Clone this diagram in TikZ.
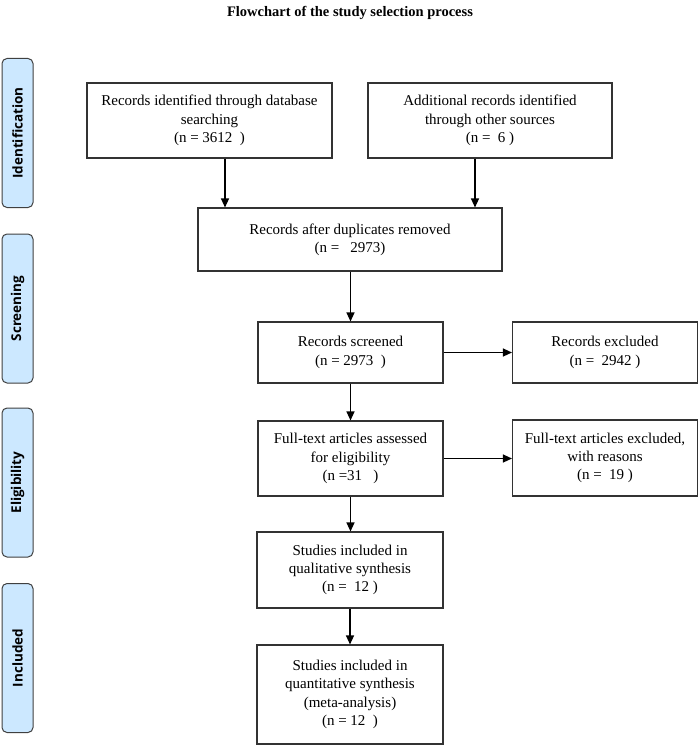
\documentclass[tikz,border=0pt]{standalone}
\usepackage{fontspec}
\setmainfont{Liberation Serif}
\newfontfamily\lblfont{Open Sans}
\usetikzlibrary{arrows.meta}
\definecolor{phaseblue}{RGB}{204,232,255}
\begin{document}
\begin{tikzpicture}[x=1pt,y=-1pt,
  box/.style={draw=black!80, line width=1.1pt, fill=white, align=center, inner sep=0pt,
    font=\fontsize{15}{18.3}\selectfont},
  phase/.style={draw=black!75, line width=1pt, fill=phaseblue, rounded corners=5pt,
    rotate=90, minimum width=149pt, minimum height=31pt, inner sep=0pt,
    font=\lblfont\bfseries\fontsize{13.5}{15}\selectfont},
  arr/.style={-{Triangle[length=9pt,width=8pt]}, line width=1.2pt}]
\useasboundingbox (0,0) rectangle (700,746);

\node[font=\bfseries\fontsize{14.5}{17}\selectfont] (title) at (350,13) {Flowchart of the study selection process};

\node[phase] (p1) at (17.5,133) {Identification};
\node[phase] (p2) at (17.5,308.5) {Screening};
\node[phase] (p3) at (17.5,482.5) {Eligibility};
\node[phase] (p4) at (17.5,658) {Included};

\node[box, minimum width=245pt, minimum height=75pt] (db) at (209.5,120.5)
  {Records identified through database\\searching\\(n = 3612~~)};
\node[box, minimum width=244pt, minimum height=75pt] (other) at (490,120.5)
  {Additional records identified\\through other sources\\(n =~~6 )};
\node[box, minimum width=304pt, minimum height=63pt] (dup) at (350,239.5)
  {Records after duplicates removed\\(n =~~~2973)};
\node[box, minimum width=185pt, minimum height=61pt] (scr) at (350.5,352.5)
  {Records screened\\(n = 2973~~)};
\node[box, minimum width=185pt, minimum height=61pt] (exc) at (605,352.5)
  {Records excluded\\(n =~~2942 )};
\node[box, minimum width=185pt, minimum height=75pt] (ft) at (350.5,458.5)
  {Full-text articles assessed\\for eligibility\\(n =31~~~)};
\node[box, minimum width=185pt, minimum height=76pt] (ftx) at (605,458)
  {Full-text articles excluded,\\with reasons\\(n =~~19 )};
\node[box, minimum width=186pt, minimum height=76pt] (qual) at (350,570)
  {Studies included in\\qualitative synthesis\\(n =~~12 )};
\node[box, minimum width=186pt, minimum height=99pt] (quant) at (350,694.5)
  {Studies included in\\quantitative synthesis\\(meta-analysis)\\(n = 12~~)};

\coordinate (a1) at (225,0);
\coordinate (a2) at (475,0);
\draw[arr] (db.south -| a1) -- (dup.north -| a1);
\draw[arr] (other.south -| a2) -- (dup.north -| a2);
\draw[arr] (dup.south -| scr) -- (scr.north);
\draw[arr] (scr.east) -- (exc.west);
\draw[arr] (scr.south) -- (ft.north);
\draw[arr] (ft.east) -- (ft.east -| ftx.west);
\draw[arr] (ft.south) -- (ft.south |- qual.north);
\draw[arr] (qual.south) -- (quant.north);
\end{tikzpicture}
\end{document}
